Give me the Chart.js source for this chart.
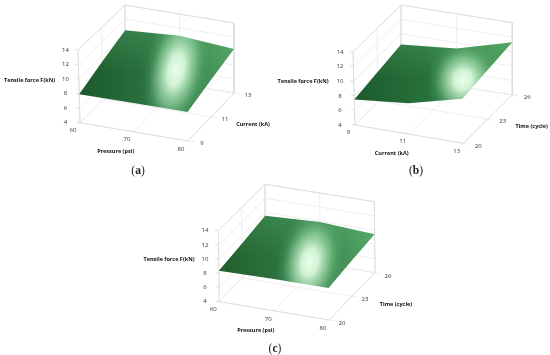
<!DOCTYPE html>
<html><head><meta charset="utf-8">
<script src="https://cdn.jsdelivr.net/npm/chart.js@4/dist/chart.umd.min.js"></script>
<style>
html,body{margin:0;padding:0;background:#fff;width:550px;height:355px;overflow:hidden}
canvas{position:absolute;filter:blur(.3px)}
.cap{position:absolute;font:11.5px "Liberation Serif",serif;color:#222;transform:translate(-50%,-50%);white-space:nowrap}
.cap b{font-weight:700}
</style></head><body>
<canvas id="a" style="left:0;top:0"></canvas>
<canvas id="b" style="left:275px;top:0"></canvas>
<canvas id="c" style="left:130px;top:175px"></canvas>
<div class="cap" style="left:138px;top:170px">(<b>a</b>)</div>
<div class="cap" style="left:416px;top:170px">(<b>b</b>)</div>
<div class="cap" style="left:275px;top:348px">(<b>c</b>)</div>
<script>
// ---- data ----
const forceTicks    = [4, 6, 8, 10, 12, 14];
const pressureTicks = [60, 70, 80];
const currentTicks  = [9, 11, 13];
const timeTicks     = [20, 23, 26];
// surface values: rows follow the first axis, columns the second axis
const surfaceA = [[7.9, 9.2, 10.4], [8.0, 9.5, 10.9], [8.1, 9.2, 10.3]];
const surfaceB = [[7.5, 8.0, 8.5], [8.3, 9.0, 9.2], [10.25, 10.8, 11.3]];
const surfaceC = [[8.35, 8.9, 9.5], [8.5, 9.3, 9.9], [8.5, 9.0, 9.4]];
const forceTitle = 'Tensile force F(kN)';
const pressureTitle = 'Pressure (psi)';
const currentTitle = 'Current (kA)';
const timeTitle = 'Time (cycle)';

// ---- view settings for each panel (box corners on the canvas) ----
const panels = [
 {id:'a',w:275,h:182,grid:surfaceA,uT:pressureTicks,vT:currentTicks,uName:pressureTitle,vName:currentTitle,
  floor:[[80,122.7],[188,141],[234,93],[125.5,75]], top:[[78,50],[187,70],[234,23],[125,5]],
  zLabelX:65.5, uOff:[-7,7.8], vOff:[14,2.5], uTitle:[115.7,151], vTitle:[253,124], zTitle:[29.5,80],
  light:[176,70,32,64,.2], base:['#1c5a2b','#2a7240','#4f9f62'], sheen:[30,70]},
 {id:'b',w:275,h:182,grid:surfaceB,uT:currentTicks,vT:timeTicks,uName:currentTitle,vName:timeTitle,
  floor:[[80,125],[188.3,143.3],[237.3,95],[126,77]], top:[[78,52],[187,72],[237.3,22.7],[126,5]],
  zLabelX:65, uOff:[-6.5,7.5], vOff:[15,2.5], uTitle:[116.7,153], vTitle:[256.7,126], zTitle:[28,81],
  light:[188,80,36,40,.2], base:['#1c5c2c','#27703c','#4d9f5f'], sheen:[42,78]},
 {id:'c',w:292,h:180,grid:surfaceC,uT:pressureTicks,vT:timeTicks,uName:pressureTitle,vName:timeTitle,
  floor:[[89.3,126.7],[199,145],[245,97.7],[135.3,79.3]], top:[[88.3,55.7],[198,74],[244.3,26.7],[135,9.3]],
  zLabelX:75, uOff:[-6,8], vOff:[13,3.2], uTitle:[125.7,155.7], vTitle:[266,129], zTitle:[39,84.7],
  light:[180,87,33,54,.2], base:['#215f2e','#2d7642','#52a265'], sheen:[40,82]}
];

function frac(t, arr){ return (t-arr[0])/(arr[arr.length-1]-arr[0]); }
function lerp(a,b,t){ return a+(b-a)*t; }
function projector(p){
  const bil=(c,u,v)=>[0,1].map(k=>lerp(lerp(c[0][k],c[1][k],u),lerp(c[3][k],c[2][k],u),v));
  return (u,v,w)=>{
    const a=bil(p.floor,u,v), b=bil(p.top,u,v);
    return {x:lerp(a[0],b[0],w), y:lerp(a[1],b[1],w)};
  };
}
function shading(p){
  const off=document.createElement('canvas'); off.width=p.w; off.height=p.h;
  const g=off.getContext('2d');
  const x0=p.floor[0][0], x1=p.floor[2][0];
  const lin=g.createLinearGradient(x0,0,x1,0);
  lin.addColorStop(0,p.base[0]); lin.addColorStop(.45,p.base[1]); lin.addColorStop(1,p.base[2]);
  g.fillStyle=lin; g.fillRect(0,0,p.w,p.h);
  const sh=g.createLinearGradient(0,p.sheen[0],0,p.sheen[1]);
  sh.addColorStop(0,'rgba(110,200,130,.22)'); sh.addColorStop(1,'rgba(110,200,130,0)');
  g.fillStyle=sh; g.fillRect(0,0,p.w,p.h);
  const [cx,cy,rx,ry,ang]=p.light;
  g.save(); g.translate(cx,cy); g.rotate(ang); g.scale(rx,ry);
  const r=g.createRadialGradient(0,0,0,0,0,1);
  r.addColorStop(0,'rgba(232,255,232,1)');
  r.addColorStop(.25,'rgba(222,252,224,.92)');
  r.addColorStop(.55,'rgba(175,232,185,.55)');
  r.addColorStop(.8,'rgba(125,200,140,.18)');
  r.addColorStop(1,'rgba(100,180,120,0)');
  g.fillStyle=r; g.fillRect(-1,-1,2,2); g.restore();
  return g.createPattern(off,'no-repeat');
}
function lineSet(pts,color){
  return {data:pts,showLine:true,borderColor:color,borderWidth:1,pointRadius:0,fill:false,tension:0};
}
const GRID='#eeeeee', EDGE='#dedede';

panels.forEach(p=>{
  const P=projector(p), sets=[];
  const zv=z=>frac(z,forceTicks);
  // surface outline from the read values
  const G=p.grid, idx=[[0,0],[1,0],[2,0],[2,1],[2,2],[1,2],[0,2],[0,1],[0,0]];
  const outline=idx.map(([i,j])=>P(i/2,j/2,zv(G[i][j])));
  const canvas=document.getElementById(p.id);
  canvas.width=p.w; canvas.height=p.h; canvas.style.width=p.w+'px'; canvas.style.height=p.h+'px';
  sets.push({data:outline,showLine:true,borderWidth:0,pointRadius:0,fill:'shape',tension:0,backgroundColor:shading(p),borderColor:'rgba(0,0,0,0)'});
  // box edges
  sets.push(lineSet([P(0,0,0),P(1,0,0),P(1,1,0)],EDGE));
  sets.push(lineSet([P(0,0,0),P(0,0,1),P(0,1,1),P(1,1,1),P(1,1,0)],EDGE));
  sets.push(lineSet([P(0,0,0),P(0,1,0),P(1,1,0)],GRID));
  sets.push(lineSet([P(0,1,0),P(0,1,1)],EDGE));
  // walls
  forceTicks.forEach(z=>{
    const w=zv(z);
    sets.push(lineSet([P(0,0,w),P(0,1,w),P(1,1,w)],GRID));
    sets.push(lineSet([P(-.03,0,w),P(0,0,w)],EDGE));
  });
  p.uT.forEach(t=>{
    const u=frac(t,p.uT);
    sets.push(lineSet([P(u,-.03,0),P(u,1,0),P(u,1,1)],GRID));
  });
  p.vT.forEach(t=>{
    const v=frac(t,p.vT);
    sets.push(lineSet([P(1.06,v,0),P(0,v,0),P(0,v,1)],GRID));
  });
  const labels={id:'labels',afterDraw(ch){
    const c=ch.ctx, X=ch.scales.x, Y=ch.scales.y;
    const T=(s,x,y)=>c.fillText(s,X.getPixelForValue(x),Y.getPixelForValue(y));
    c.save(); c.textAlign='center'; c.textBaseline='middle';
    c.font='6px "Open Sans"'; c.fillStyle='#333';
    forceTicks.forEach(z=>T(String(z),p.zLabelX,P(0,0,zv(z)).y));
    p.uT.forEach(t=>{const q=P(frac(t,p.uT),0,0);T(String(t),q.x+p.uOff[0],q.y+p.uOff[1]);});
    p.vT.forEach(t=>{const q=P(1,frac(t,p.vT),0);T(String(t),q.x+p.vOff[0],q.y+p.vOff[1]);});
    c.font='bold 5.5px "Open Sans"'; c.fillStyle='#111';
    T(p.uName,...p.uTitle); T(p.vName,...p.vTitle); T(forceTitle,...p.zTitle);
    c.restore();
  }};
  new Chart(canvas,{type:'scatter',data:{datasets:sets},plugins:[labels],options:{
    responsive:false,animation:false,devicePixelRatio:1,
    layout:{padding:0},
    plugins:{legend:{display:false},tooltip:{enabled:false},title:{display:false}},
    scales:{
      x:{type:'linear',display:false,min:0,max:p.w},
      y:{type:'linear',display:false,min:0,max:p.h,reverse:true}
    }
  }});
});
</script>
</body></html>
